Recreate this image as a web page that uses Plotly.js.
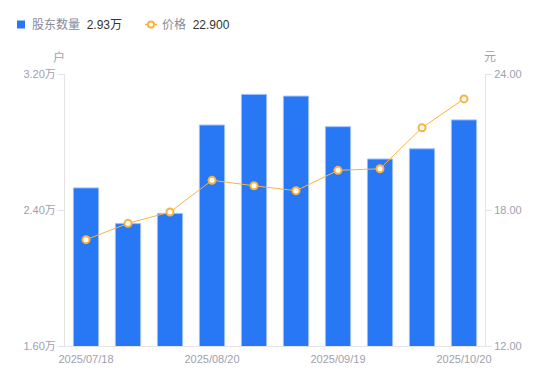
<!DOCTYPE html>
<html><head><meta charset="utf-8">
<script src="https://cdn.plot.ly/plotly-3.0.1.min.js"></script>
<style>body{margin:0;background:#fff}#c{width:550px;height:381px}</style>
</head><body><div id="c"></div>
<script>
const dates = ['2025/07/18','2025/07/31','2025/08/08','2025/08/20','2025/08/29','2025/09/10','2025/09/19','2025/09/30','2025/10/10','2025/10/20'];
const holders = [2.53, 2.32, 2.38, 2.90, 3.08, 3.07, 2.89, 2.70, 2.76, 2.93];
const prices = [16.69, 17.41, 17.91, 19.31, 19.07, 18.85, 19.75, 19.82, 21.63, 22.90];
const leftTicks = [1.6, 2.4, 3.2];
const leftTickText = ['1.60万','2.40万','3.20万'];
const rightTicks = [12, 18, 24];
const rightTickText = ['12.00','18.00','24.00'];
const tickIdx = [0, 3, 6, 9];
const seriesNames = ['股东数量', '价格'];

const FONT = '"Liberation Sans", Arial, "Noto Sans CJK SC", sans-serif';
const BLUE = '#2878f5', ORANGE = '#fbb33f';
const x = dates.map((d,i)=>i);
const lastH = holders[holders.length-1].toFixed(2)+'万';
const lastP = prices[prices.length-1].toFixed(3);

// plot area in pixels: left 65, right 485, top 74, bottom 346
const PX = p => (p-65)/420;
const PY = p => 1-(p-74)/272;

const traces = [
  {type:'bar', x:x, y:holders, name:seriesNames[0], width:0.6,
   marker:{color:BLUE, line:{color:'#9cc0fa', width:1}}, yaxis:'y', hoverinfo:'skip'},
  {type:'scatter', mode:'lines+markers', x:x, y:prices, yaxis:'y2', name:seriesNames[1],
   line:{color:ORANGE, width:1},
   marker:{symbol:'circle', size:7, color:'#fff', line:{color:ORANGE, width:2}}, hoverinfo:'skip'}
];

const axisCommon = {showgrid:false, zeroline:false, showline:true, linecolor:'#e3e3e8', linewidth:1,
  ticks:'outside', ticklen:6, tickcolor:'#e3e3e8', tickfont:{family:FONT, size:11, color:'#a0a0b0'}, fixedrange:true};

const legFont = {family:FONT, size:12, color:'#8a8a99'};
const layout = {
  width:550, height:381, margin:{l:65, r:65, t:74, b:35},
  paper_bgcolor:'#fff', plot_bgcolor:'#fff',
  font:{family:FONT},
  showlegend:false,
  xaxis:Object.assign({}, axisCommon, {range:[-0.5, 9.5], tickvals:tickIdx, ticktext:tickIdx.map(i=>dates[i]), ticks:'', ticklabelstandoff:3, tickfont:{family:FONT, size:11, color:'#a0a0b0'}}),
  yaxis:Object.assign({}, axisCommon, {range:[1.6, 3.2], tickvals:leftTicks, ticktext:leftTickText}),
  yaxis2:Object.assign({}, axisCommon, {range:[12, 24], tickvals:rightTicks, ticktext:rightTickText, overlaying:'y', side:'right'}),
  shapes:[
    {type:'rect', xref:'paper', yref:'paper', x0:PX(17), x1:PX(25), y0:PY(20.5), y1:PY(28.5), fillcolor:BLUE, line:{width:0}},
    {type:'line', xref:'paper', yref:'paper', x0:PX(145), x1:PX(157), y0:PY(24.5), y1:PY(24.5), line:{color:ORANGE, width:1.5}},
    {type:'circle', xref:'paper', yref:'paper', x0:PX(148), x1:PX(154), y0:PY(21.5), y1:PY(27.5), fillcolor:'#fff', line:{color:ORANGE, width:2}}
  ],
  annotations:[
    {text:seriesNames[0]+'  <span style="color:#333">'+lastH+'</span>', xref:'paper', yref:'paper', x:PX(30), y:PY(24.5), xanchor:'left', yanchor:'middle', showarrow:false, font:legFont},
    {text:seriesNames[1]+'  <span style="color:#333">'+lastP+'</span>', xref:'paper', yref:'paper', x:PX(160), y:PY(24.5), xanchor:'left', yanchor:'middle', showarrow:false, font:legFont},
    {text:'户', xref:'paper', yref:'paper', x:PX(59), y:PY(57), xanchor:'center', yanchor:'middle', showarrow:false, font:{family:FONT, size:12, color:'#a0a0b0'}},
    {text:'元', xref:'paper', yref:'paper', x:PX(490), y:PY(57), xanchor:'center', yanchor:'middle', showarrow:false, font:{family:FONT, size:12, color:'#a0a0b0'}}
  ]
};
Plotly.newPlot('c', traces, layout, {staticPlot:true});
</script></body></html>
